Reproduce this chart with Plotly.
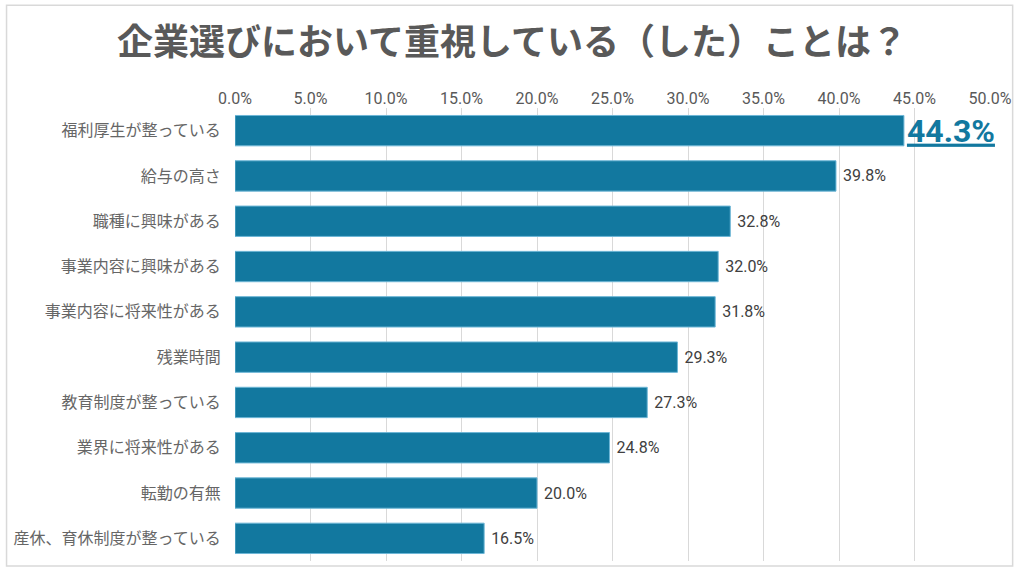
import plotly.graph_objects as go

categories = [
    "福利厚生が整っている",
    "給与の高さ",
    "職種に興味がある",
    "事業内容に興味がある",
    "事業内容に将来性がある",
    "残業時間",
    "教育制度が整っている",
    "業界に将来性がある",
    "転勤の有無",
    "産休、育休制度が整っている",
]
values = [0.443, 0.398, 0.328, 0.320, 0.318, 0.293, 0.273, 0.248, 0.200, 0.165]
tick_vals = [0, 0.05, 0.10, 0.15, 0.20, 0.25, 0.30, 0.35, 0.40, 0.45, 0.50]

bar_color = "#12789f"
labels = []
sizes = []
colors = []
for i, v in enumerate(values):
    if i == 0:
        labels.append('<span style="text-decoration:underline"><b>%.1f%%</b></span>' % (v * 100))
        sizes.append(32)
        colors.append(bar_color)
    else:
        labels.append(" %.1f%%" % (v * 100))
        sizes.append(16)
        colors.append("#404040")

fig = go.Figure(
    go.Bar(
        x=values,
        y=categories,
        orientation="h",
        marker=dict(color=bar_color, line=dict(color="#6db6d6", width=1)),
        text=labels,
        textposition="outside",
        constraintext="none",
        textfont=dict(size=sizes, color=colors),
        cliponaxis=False,
        hoverinfo="skip",
    )
)

fig.update_layout(
    width=1024,
    height=576,
    margin=dict(l=235, r=29, t=108, b=15),
    paper_bgcolor="white",
    plot_bgcolor="white",
    font=dict(family="Roboto, 'Noto Sans CJK JP'", color="#595959"),
    bargap=0.33,
    showlegend=False,
    title=dict(
        text="<b>企業選びにおいて重視している（した）ことは？</b>",
        x=0.5,
        xanchor="center",
        y=0.927,
        yanchor="middle",
        font=dict(size=36, color="#595959", family="'Noto Sans CJK JP'"),
    ),
    shapes=[
        dict(
            type="rect", xref="paper", yref="paper",
            x0=-0.3026, x1=1.030, y0=-0.011, y1=1.227,
            line=dict(color="#d9d9d9", width=1.5),
        )
    ],
)
fig.update_xaxes(
    side="top",
    range=[0, 0.5],
    tickvals=tick_vals,
    tickformat=".1%",
    showgrid=True,
    gridcolor="#d9d9d9",
    gridwidth=1,
    zeroline=False,
    showline=False,
    tickfont=dict(size=16, color="#595959"),
    ticks="",
)
fig.update_yaxes(
    autorange="reversed",
    showgrid=False,
    showline=False,
    ticks="outside",
    ticklen=10,
    tickcolor="white",
    tickfont=dict(size=16, color="#666666", family="'Noto Sans CJK JP'"),
)

# page has a default 8px body margin; drop it so the chart sits at 0,0
fig.write_html(
    "out.html",
    config={"displayModeBar": False},
    post_script="document.body.style.margin='0';document.body.style.overflow='hidden';",
)
